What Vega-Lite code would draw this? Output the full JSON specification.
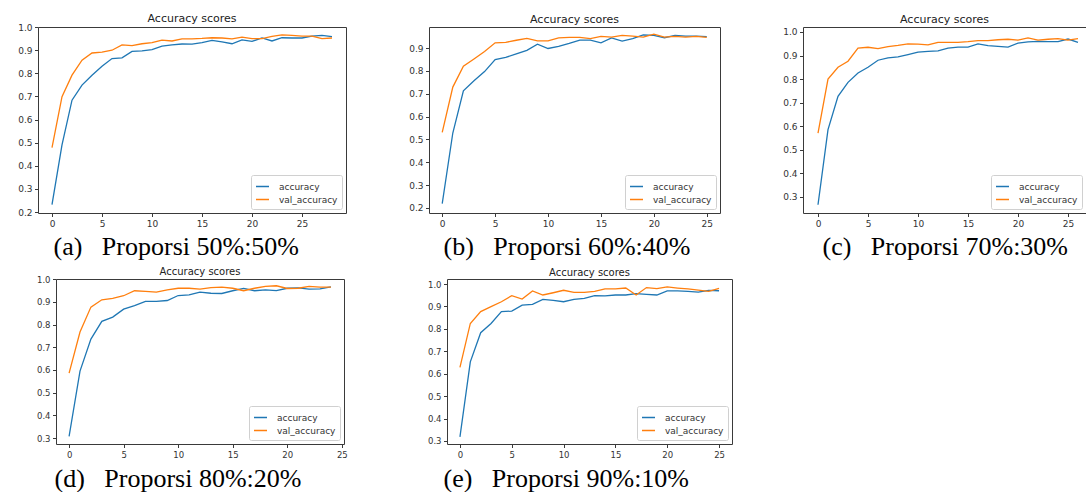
{
  "$schema": "https://vega.github.io/schema/vega-lite/v6.json",
  "background": "white",
  "padding": {"left": 17, "top": 12, "right": 0, "bottom": 0},
  "spacing": 6,
  "config": {
    "view": {"stroke": "#3a3a3a", "strokeWidth": 1},
    "font": "DejaVu Sans",
    "axis": {"domain": false, "grid": false, "tickColor": "#3a3a3a", "tickSize": 3.5, "labelPadding": 2.5, "labelColor": "#333333", "labelFont": "DejaVu Sans", "labelFontSize": 9, "titleFont": "Liberation Serif", "titleFontSize": 26, "titleFontWeight": "normal", "titleColor": "#000000", "titleAlign": "left", "titleBaseline": "alphabetic"},
    "title": {"font": "DejaVu Sans", "fontSize": 11, "fontWeight": "normal", "color": "#222222", "offset": 0, "anchor": "middle", "frame": "group"},
    "legend": {"orient": "bottom-right", "offset": 4, "padding": 4, "strokeColor": "#d0d0d0", "fillColor": "white", "cornerRadius": 2, "symbolType": "stroke", "symbolSize": 169, "symbolStrokeWidth": 1.5, "labelFontSize": 9, "labelFont": "DejaVu Sans", "labelColor": "#333333", "labelOffset": 9, "rowPadding": 0}
  },
  "resolve": {"scale": {"x": "independent", "y": "independent", "color": "independent"}, "axis": {"x": "independent", "y": "independent"}, "legend": {"color": "independent"}},
  "datasets": {
    "a": [
      {"epoch": 0, "accuracy": 0.232, "val_accuracy": 0.479},
      {"epoch": 1, "accuracy": 0.49, "val_accuracy": 0.699},
      {"epoch": 2, "accuracy": 0.684, "val_accuracy": 0.792},
      {"epoch": 3, "accuracy": 0.749, "val_accuracy": 0.857},
      {"epoch": 4, "accuracy": 0.792, "val_accuracy": 0.888},
      {"epoch": 5, "accuracy": 0.831, "val_accuracy": 0.892},
      {"epoch": 6, "accuracy": 0.864, "val_accuracy": 0.9},
      {"epoch": 7, "accuracy": 0.867, "val_accuracy": 0.923},
      {"epoch": 8, "accuracy": 0.895, "val_accuracy": 0.92},
      {"epoch": 9, "accuracy": 0.897, "val_accuracy": 0.928},
      {"epoch": 10, "accuracy": 0.903, "val_accuracy": 0.933},
      {"epoch": 11, "accuracy": 0.918, "val_accuracy": 0.944},
      {"epoch": 12, "accuracy": 0.923, "val_accuracy": 0.94},
      {"epoch": 13, "accuracy": 0.927, "val_accuracy": 0.949},
      {"epoch": 14, "accuracy": 0.926, "val_accuracy": 0.949},
      {"epoch": 15, "accuracy": 0.933, "val_accuracy": 0.951},
      {"epoch": 16, "accuracy": 0.943, "val_accuracy": 0.954},
      {"epoch": 17, "accuracy": 0.936, "val_accuracy": 0.953},
      {"epoch": 18, "accuracy": 0.928, "val_accuracy": 0.949},
      {"epoch": 19, "accuracy": 0.945, "val_accuracy": 0.957},
      {"epoch": 20, "accuracy": 0.938, "val_accuracy": 0.95},
      {"epoch": 21, "accuracy": 0.953, "val_accuracy": 0.95},
      {"epoch": 22, "accuracy": 0.94, "val_accuracy": 0.96},
      {"epoch": 23, "accuracy": 0.954, "val_accuracy": 0.966},
      {"epoch": 24, "accuracy": 0.953, "val_accuracy": 0.964},
      {"epoch": 25, "accuracy": 0.953, "val_accuracy": 0.961},
      {"epoch": 26, "accuracy": 0.961, "val_accuracy": 0.961},
      {"epoch": 27, "accuracy": 0.964, "val_accuracy": 0.95},
      {"epoch": 28, "accuracy": 0.959, "val_accuracy": 0.953}
    ],
    "b": [
      {"epoch": 0, "accuracy": 0.219, "val_accuracy": 0.531},
      {"epoch": 1, "accuracy": 0.528, "val_accuracy": 0.729},
      {"epoch": 2, "accuracy": 0.713, "val_accuracy": 0.82},
      {"epoch": 3, "accuracy": 0.757, "val_accuracy": 0.852},
      {"epoch": 4, "accuracy": 0.797, "val_accuracy": 0.885},
      {"epoch": 5, "accuracy": 0.849, "val_accuracy": 0.923},
      {"epoch": 6, "accuracy": 0.859, "val_accuracy": 0.925},
      {"epoch": 7, "accuracy": 0.874, "val_accuracy": 0.934},
      {"epoch": 8, "accuracy": 0.89, "val_accuracy": 0.942},
      {"epoch": 9, "accuracy": 0.917, "val_accuracy": 0.931},
      {"epoch": 10, "accuracy": 0.898, "val_accuracy": 0.931},
      {"epoch": 11, "accuracy": 0.907, "val_accuracy": 0.944},
      {"epoch": 12, "accuracy": 0.92, "val_accuracy": 0.947},
      {"epoch": 13, "accuracy": 0.935, "val_accuracy": 0.947},
      {"epoch": 14, "accuracy": 0.935, "val_accuracy": 0.941},
      {"epoch": 15, "accuracy": 0.923, "val_accuracy": 0.951},
      {"epoch": 16, "accuracy": 0.944, "val_accuracy": 0.948},
      {"epoch": 17, "accuracy": 0.93, "val_accuracy": 0.955},
      {"epoch": 18, "accuracy": 0.941, "val_accuracy": 0.952},
      {"epoch": 19, "accuracy": 0.957, "val_accuracy": 0.948},
      {"epoch": 20, "accuracy": 0.955, "val_accuracy": 0.961},
      {"epoch": 21, "accuracy": 0.945, "val_accuracy": 0.948},
      {"epoch": 22, "accuracy": 0.955, "val_accuracy": 0.951},
      {"epoch": 23, "accuracy": 0.952, "val_accuracy": 0.948},
      {"epoch": 24, "accuracy": 0.952, "val_accuracy": 0.951},
      {"epoch": 25, "accuracy": 0.95, "val_accuracy": 0.947}
    ],
    "c": [
      {"epoch": 0, "accuracy": 0.267, "val_accuracy": 0.571},
      {"epoch": 1, "accuracy": 0.586, "val_accuracy": 0.8},
      {"epoch": 2, "accuracy": 0.727, "val_accuracy": 0.85},
      {"epoch": 3, "accuracy": 0.786, "val_accuracy": 0.876},
      {"epoch": 4, "accuracy": 0.826, "val_accuracy": 0.931},
      {"epoch": 5, "accuracy": 0.85, "val_accuracy": 0.935},
      {"epoch": 6, "accuracy": 0.88, "val_accuracy": 0.929},
      {"epoch": 7, "accuracy": 0.89, "val_accuracy": 0.938},
      {"epoch": 8, "accuracy": 0.894, "val_accuracy": 0.943},
      {"epoch": 9, "accuracy": 0.904, "val_accuracy": 0.949},
      {"epoch": 10, "accuracy": 0.914, "val_accuracy": 0.948},
      {"epoch": 11, "accuracy": 0.918, "val_accuracy": 0.945},
      {"epoch": 12, "accuracy": 0.92, "val_accuracy": 0.956},
      {"epoch": 13, "accuracy": 0.931, "val_accuracy": 0.956},
      {"epoch": 14, "accuracy": 0.936, "val_accuracy": 0.956},
      {"epoch": 15, "accuracy": 0.936, "val_accuracy": 0.959},
      {"epoch": 16, "accuracy": 0.949, "val_accuracy": 0.963},
      {"epoch": 17, "accuracy": 0.942, "val_accuracy": 0.963},
      {"epoch": 18, "accuracy": 0.939, "val_accuracy": 0.967},
      {"epoch": 19, "accuracy": 0.936, "val_accuracy": 0.969},
      {"epoch": 20, "accuracy": 0.953, "val_accuracy": 0.965},
      {"epoch": 21, "accuracy": 0.958, "val_accuracy": 0.975},
      {"epoch": 22, "accuracy": 0.96, "val_accuracy": 0.965},
      {"epoch": 23, "accuracy": 0.959, "val_accuracy": 0.969},
      {"epoch": 24, "accuracy": 0.959, "val_accuracy": 0.972},
      {"epoch": 25, "accuracy": 0.97, "val_accuracy": 0.965},
      {"epoch": 26, "accuracy": 0.956, "val_accuracy": 0.972}
    ],
    "d": [
      {"epoch": 0, "accuracy": 0.307, "val_accuracy": 0.586},
      {"epoch": 1, "accuracy": 0.595, "val_accuracy": 0.767},
      {"epoch": 2, "accuracy": 0.736, "val_accuracy": 0.877},
      {"epoch": 3, "accuracy": 0.814, "val_accuracy": 0.909},
      {"epoch": 4, "accuracy": 0.833, "val_accuracy": 0.915},
      {"epoch": 5, "accuracy": 0.868, "val_accuracy": 0.927},
      {"epoch": 6, "accuracy": 0.883, "val_accuracy": 0.949},
      {"epoch": 7, "accuracy": 0.902, "val_accuracy": 0.946},
      {"epoch": 8, "accuracy": 0.902, "val_accuracy": 0.943},
      {"epoch": 9, "accuracy": 0.906, "val_accuracy": 0.953},
      {"epoch": 10, "accuracy": 0.928, "val_accuracy": 0.96},
      {"epoch": 11, "accuracy": 0.931, "val_accuracy": 0.96},
      {"epoch": 12, "accuracy": 0.943, "val_accuracy": 0.956},
      {"epoch": 13, "accuracy": 0.938, "val_accuracy": 0.963},
      {"epoch": 14, "accuracy": 0.937, "val_accuracy": 0.965},
      {"epoch": 15, "accuracy": 0.949, "val_accuracy": 0.96},
      {"epoch": 16, "accuracy": 0.959, "val_accuracy": 0.949},
      {"epoch": 17, "accuracy": 0.949, "val_accuracy": 0.96},
      {"epoch": 18, "accuracy": 0.953, "val_accuracy": 0.968},
      {"epoch": 19, "accuracy": 0.95, "val_accuracy": 0.971},
      {"epoch": 20, "accuracy": 0.96, "val_accuracy": 0.959},
      {"epoch": 21, "accuracy": 0.962, "val_accuracy": 0.96},
      {"epoch": 22, "accuracy": 0.956, "val_accuracy": 0.968},
      {"epoch": 23, "accuracy": 0.957, "val_accuracy": 0.965},
      {"epoch": 24, "accuracy": 0.966, "val_accuracy": 0.965}
    ],
    "e": [
      {"epoch": 0, "accuracy": 0.318, "val_accuracy": 0.628},
      {"epoch": 1, "accuracy": 0.653, "val_accuracy": 0.824},
      {"epoch": 2, "accuracy": 0.783, "val_accuracy": 0.877},
      {"epoch": 3, "accuracy": 0.824, "val_accuracy": 0.899},
      {"epoch": 4, "accuracy": 0.877, "val_accuracy": 0.921},
      {"epoch": 5, "accuracy": 0.879, "val_accuracy": 0.948},
      {"epoch": 6, "accuracy": 0.906, "val_accuracy": 0.933},
      {"epoch": 7, "accuracy": 0.909, "val_accuracy": 0.969},
      {"epoch": 8, "accuracy": 0.931, "val_accuracy": 0.951},
      {"epoch": 9, "accuracy": 0.927, "val_accuracy": 0.961},
      {"epoch": 10, "accuracy": 0.921, "val_accuracy": 0.972},
      {"epoch": 11, "accuracy": 0.931, "val_accuracy": 0.963},
      {"epoch": 12, "accuracy": 0.936, "val_accuracy": 0.963},
      {"epoch": 13, "accuracy": 0.948, "val_accuracy": 0.967},
      {"epoch": 14, "accuracy": 0.947, "val_accuracy": 0.978},
      {"epoch": 15, "accuracy": 0.951, "val_accuracy": 0.978},
      {"epoch": 16, "accuracy": 0.951, "val_accuracy": 0.982},
      {"epoch": 17, "accuracy": 0.957, "val_accuracy": 0.951},
      {"epoch": 18, "accuracy": 0.954, "val_accuracy": 0.984},
      {"epoch": 19, "accuracy": 0.951, "val_accuracy": 0.979},
      {"epoch": 20, "accuracy": 0.969, "val_accuracy": 0.987},
      {"epoch": 21, "accuracy": 0.969, "val_accuracy": 0.982},
      {"epoch": 22, "accuracy": 0.967, "val_accuracy": 0.978},
      {"epoch": 23, "accuracy": 0.964, "val_accuracy": 0.973},
      {"epoch": 24, "accuracy": 0.972, "val_accuracy": 0.967},
      {"epoch": 25, "accuracy": 0.97, "val_accuracy": 0.981}
    ]
  },
  "vconcat": [
    {
      "bounds": "flush",
      "spacing": 83,
      "resolve": {"scale": {"x": "independent", "y": "independent", "color": "independent"}, "axis": {"x": "independent", "y": "independent"}, "legend": {"color": "independent"}},
      "hconcat": [
        {
          "width": 308, "height": 186,
          "title": {"text": "Accuracy scores", "offset": -1},
          "data": {"name": "a"},
          "transform": [{"fold": ["accuracy", "val_accuracy"], "as": ["series", "score"]}],
          "mark": {"type": "line", "strokeWidth": 1.3},
          "encoding": {
            "x": {"field": "epoch", "type": "quantitative", "scale": {"domain": [-1.4, 29.4], "nice": false, "zero": false}, "axis": {"values": [0, 5, 10, 15, 20, 25], "title": "(a)\u00a0\u00a0\u00a0Proporsi 50%:50%", "titleX": 15, "titleY": 41}},
            "y": {"field": "score", "type": "quantitative", "scale": {"domain": [0.1957, 1.0005], "nice": false, "zero": false}, "axis": {"values": [0.2, 0.3, 0.4, 0.5, 0.6, 0.7, 0.8, 0.9, 1.0], "format": ".1f", "title": null}},
            "color": {"field": "series", "type": "nominal", "scale": {"domain": ["accuracy", "val_accuracy"], "range": ["#1f77b4", "#ff7f0e"]}, "legend": {"title": null}}
          }
        },
        {
          "width": 291, "height": 186,
          "title": {"text": "Accuracy scores", "offset": 2},
          "data": {"name": "b"},
          "transform": [{"fold": ["accuracy", "val_accuracy"], "as": ["series", "score"]}],
          "mark": {"type": "line", "strokeWidth": 1.3},
          "encoding": {
            "x": {"field": "epoch", "type": "quantitative", "scale": {"domain": [-1.25, 26.25], "nice": false, "zero": false}, "axis": {"values": [0, 5, 10, 15, 20, 25], "title": "(b)\u00a0\u00a0\u00a0Proporsi 60%:40%", "titleX": 14, "titleY": 41}},
            "y": {"field": "score", "type": "quantitative", "scale": {"domain": [0.178, 0.992], "nice": false, "zero": false}, "axis": {"values": [0.2, 0.3, 0.4, 0.5, 0.6, 0.7, 0.8, 0.9], "format": ".1f", "title": null}},
            "color": {"field": "series", "type": "nominal", "scale": {"domain": ["accuracy", "val_accuracy"], "range": ["#1f77b4", "#ff7f0e"]}, "legend": {"title": null}}
          }
        },
        {
          "width": 283, "height": 186,
          "title": {"text": "Accuracy scores", "offset": 2},
          "data": {"name": "c"},
          "transform": [{"fold": ["accuracy", "val_accuracy"], "as": ["series", "score"]}],
          "mark": {"type": "line", "strokeWidth": 1.3},
          "encoding": {
            "x": {"field": "epoch", "type": "quantitative", "scale": {"domain": [-1.5, 26.8], "nice": false, "zero": false}, "axis": {"values": [0, 5, 10, 15, 20, 25], "title": "(c)\u00a0\u00a0\u00a0Proporsi 70%:30%", "titleX": 19, "titleY": 41}},
            "y": {"field": "score", "type": "quantitative", "scale": {"domain": [0.232, 1.021], "nice": false, "zero": false}, "axis": {"values": [0.3, 0.4, 0.5, 0.6, 0.7, 0.8, 0.9, 1.0], "format": ".1f", "title": null}},
            "color": {"field": "series", "type": "nominal", "scale": {"domain": ["accuracy", "val_accuracy"], "range": ["#1f77b4", "#ff7f0e"]}, "legend": {"title": null}}
          }
        }
      ]
    },
    {
      "bounds": "flush",
      "spacing": 0,
      "resolve": {"scale": {"x": "independent", "y": "independent", "color": "independent"}, "axis": {"x": "independent", "y": "independent"}, "legend": {"color": "independent"}},
      "hconcat": [
        {
          "width": 18, "height": 165,
          "data": {"values": []},
          "mark": "point",
          "view": {"stroke": null}
        },
        {
          "bounds": "flush",
          "spacing": 103,
          "resolve": {"scale": {"x": "independent", "y": "independent", "color": "independent"}, "axis": {"x": "independent", "y": "independent"}, "legend": {"color": "independent"}},
          "hconcat": [
            {
              "width": 288, "height": 165,
              "title": {"text": "Accuracy scores", "fontSize": 10, "offset": -2},
              "data": {"name": "d"},
              "transform": [{"fold": ["accuracy", "val_accuracy"], "as": ["series", "score"]}],
              "mark": {"type": "line", "strokeWidth": 1.3},
              "encoding": {
                "x": {"field": "epoch", "type": "quantitative", "scale": {"domain": [-1.2, 25.2], "nice": false, "zero": false}, "axis": {"values": [0, 5, 10, 15, 20, 25], "labelFontSize": 8.5, "title": "(d)\u00a0\u00a0\u00a0Proporsi 80%:20%", "titleX": -2, "titleY": 42}},
                "y": {"field": "score", "type": "quantitative", "scale": {"domain": [0.2736, 1.0008], "nice": false, "zero": false}, "axis": {"values": [0.3, 0.4, 0.5, 0.6, 0.7, 0.8, 0.9, 1.0], "format": ".1f", "labelFontSize": 8.5, "title": null}},
                "color": {"field": "series", "type": "nominal", "scale": {"domain": ["accuracy", "val_accuracy"], "range": ["#1f77b4", "#ff7f0e"]}, "legend": {"title": null}}
              }
            },
            {
              "width": 285, "height": 165,
              "title": {"text": "Accuracy scores", "fontSize": 10, "offset": 1},
              "data": {"name": "e"},
              "transform": [{"fold": ["accuracy", "val_accuracy"], "as": ["series", "score"]}],
              "mark": {"type": "line", "strokeWidth": 1.3},
              "encoding": {
                "x": {"field": "epoch", "type": "quantitative", "scale": {"domain": [-1.25, 26.25], "nice": false, "zero": false}, "axis": {"values": [0, 5, 10, 15, 20, 25], "labelFontSize": 8.5, "title": "(e)\u00a0\u00a0\u00a0Proporsi 90%:10%", "titleX": -4, "titleY": 42}},
                "y": {"field": "score", "type": "quantitative", "scale": {"domain": [0.2866, 1.0223], "nice": false, "zero": false}, "axis": {"values": [0.3, 0.4, 0.5, 0.6, 0.7, 0.8, 0.9, 1.0], "format": ".1f", "labelFontSize": 8.5, "title": null}},
                "color": {"field": "series", "type": "nominal", "scale": {"domain": ["accuracy", "val_accuracy"], "range": ["#1f77b4", "#ff7f0e"]}, "legend": {"title": null}}
              }
            }
          ]
        }
      ]
    }
  ]
}
